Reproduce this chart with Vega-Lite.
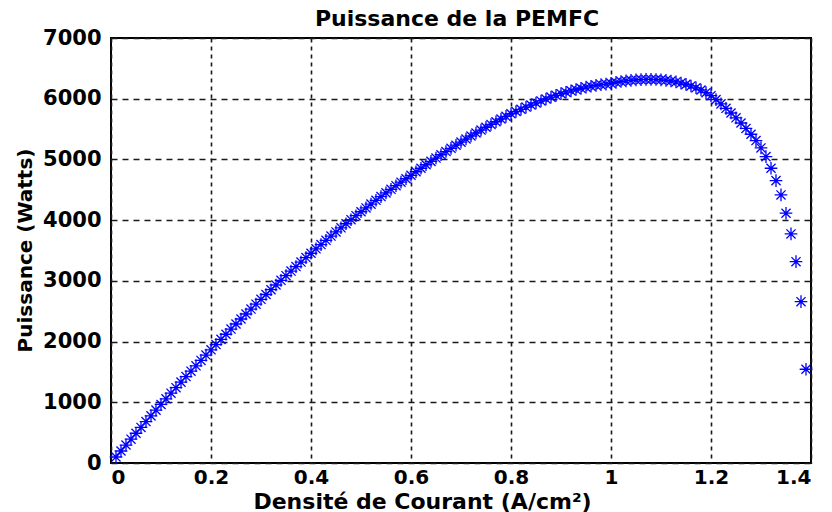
{
  "$schema": "https://vega.github.io/schema/vega-lite/v6.json",
  "width": 700,
  "height": 425,
  "autosize": "none",
  "padding": {"left": 111, "top": 38, "right": 21, "bottom": 49},
  "background": "white",
  "title": {"text": "Puissance de la PEMFC", "font": "DejaVu Sans", "fontSize": 22, "fontWeight": "bold", "color": "black", "offset": -4, "anchor": "middle", "dx": -4},
  "config": {
    "view": {"stroke": "black", "strokeWidth": 2},
    "axis": {
      "domain": false,
      "ticks": false,
      "grid": true,
      "gridColor": "#1a1a1a",
      "gridOpacity": 1,
      "gridWidth": 1.6,
      "labelFont": "DejaVu Sans",
      "labelFontSize": 21,
      "labelFontWeight": "bold",
      "labelColor": "black",
      "titleFont": "DejaVu Sans",
      "titleFontWeight": "bold",
      "titleColor": "black"
    }
  },
  "data": {"values": [
    {"J":0.01,"P":99},{"J":0.02,"P":198},{"J":0.03,"P":296},{"J":0.04,"P":393},{"J":0.05,"P":490},
    {"J":0.06,"P":586},{"J":0.07,"P":682},{"J":0.08,"P":776},{"J":0.09,"P":871},{"J":0.10,"P":964},
    {"J":0.11,"P":1057},{"J":0.12,"P":1150},{"J":0.13,"P":1241},{"J":0.14,"P":1332},{"J":0.15,"P":1423},
    {"J":0.16,"P":1512},{"J":0.17,"P":1601},{"J":0.18,"P":1690},{"J":0.19,"P":1777},{"J":0.20,"P":1864},
    {"J":0.21,"P":1951},{"J":0.22,"P":2036},{"J":0.23,"P":2121},{"J":0.24,"P":2206},{"J":0.25,"P":2289},
    {"J":0.26,"P":2372},{"J":0.27,"P":2454},{"J":0.28,"P":2535},{"J":0.29,"P":2616},{"J":0.30,"P":2696},
    {"J":0.31,"P":2775},{"J":0.32,"P":2854},{"J":0.33,"P":2932},{"J":0.34,"P":3009},{"J":0.35,"P":3085},
    {"J":0.36,"P":3161},{"J":0.37,"P":3235},{"J":0.38,"P":3309},{"J":0.39,"P":3383},{"J":0.40,"P":3455},
    {"J":0.41,"P":3527},{"J":0.42,"P":3598},{"J":0.43,"P":3668},{"J":0.44,"P":3738},{"J":0.45,"P":3806},
    {"J":0.46,"P":3874},{"J":0.47,"P":3941},{"J":0.48,"P":4007},{"J":0.49,"P":4073},{"J":0.50,"P":4138},
    {"J":0.51,"P":4201},{"J":0.52,"P":4264},{"J":0.53,"P":4327},{"J":0.54,"P":4388},{"J":0.55,"P":4449},
    {"J":0.56,"P":4508},{"J":0.57,"P":4567},{"J":0.58,"P":4625},{"J":0.59,"P":4682},{"J":0.60,"P":4739},
    {"J":0.61,"P":4797},{"J":0.62,"P":4855},{"J":0.63,"P":4912},{"J":0.64,"P":4968},{"J":0.65,"P":5023},
    {"J":0.66,"P":5077},{"J":0.67,"P":5130},{"J":0.68,"P":5183},{"J":0.69,"P":5234},{"J":0.70,"P":5285},
    {"J":0.71,"P":5336},{"J":0.72,"P":5386},{"J":0.73,"P":5435},{"J":0.74,"P":5483},{"J":0.75,"P":5530},
    {"J":0.76,"P":5576},{"J":0.77,"P":5621},{"J":0.78,"P":5666},{"J":0.79,"P":5709},{"J":0.80,"P":5752},
    {"J":0.81,"P":5789},{"J":0.82,"P":5826},{"J":0.83,"P":5862},{"J":0.84,"P":5896},{"J":0.85,"P":5930},
    {"J":0.86,"P":5963},{"J":0.87,"P":5995},{"J":0.88,"P":6026},{"J":0.89,"P":6056},{"J":0.90,"P":6083},
    {"J":0.91,"P":6107},{"J":0.92,"P":6130},{"J":0.93,"P":6151},{"J":0.94,"P":6171},{"J":0.95,"P":6190},
    {"J":0.96,"P":6206},{"J":0.97,"P":6220},{"J":0.98,"P":6231},{"J":0.99,"P":6241},{"J":1.00,"P":6255},
    {"J":1.01,"P":6270},{"J":1.02,"P":6283},{"J":1.03,"P":6294},{"J":1.04,"P":6303},{"J":1.05,"P":6310},
    {"J":1.06,"P":6315},{"J":1.07,"P":6318},{"J":1.08,"P":6318},{"J":1.09,"P":6316},{"J":1.10,"P":6311},
    {"J":1.11,"P":6303},{"J":1.12,"P":6292},{"J":1.13,"P":6277},{"J":1.14,"P":6258},{"J":1.15,"P":6236},
    {"J":1.16,"P":6210},{"J":1.17,"P":6180},{"J":1.18,"P":6144},{"J":1.19,"P":6100},{"J":1.20,"P":6050},
    {"J":1.21,"P":5985},{"J":1.22,"P":5915},{"J":1.23,"P":5842},{"J":1.24,"P":5765},{"J":1.25,"P":5685},
    {"J":1.26,"P":5600},{"J":1.27,"P":5510},{"J":1.28,"P":5415},{"J":1.29,"P":5310},{"J":1.30,"P":5190},
    {"J":1.31,"P":5046},{"J":1.32,"P":4855},{"J":1.33,"P":4651},{"J":1.34,"P":4415},{"J":1.35,"P":4114},
    {"J":1.36,"P":3773},{"J":1.37,"P":3316},{"J":1.38,"P":2657},{"J":1.39,"P":1544}
  ]},
  "mark": {
    "type": "point",
    "shape": "M-1,0L1,0M0,-1L0,1M-0.72,-0.72L0.72,0.72M-0.72,0.72L0.72,-0.72",
    "filled": false,
    "color": "#0000FF",
    "strokeWidth": 1.3,
    "size": 160,
    "opacity": 1
  },
  "encoding": {
    "x": {
      "field": "J",
      "type": "quantitative",
      "scale": {"domain": [0, 1.4], "nice": false, "zero": false},
      "axis": {
        "values": [0, 0.2, 0.4, 0.6, 0.8, 1, 1.2, 1.4],
        "format": ".1~f",
        "labelFontSize": 20,
        "labelPadding": 4,
        "gridDash": [4, 4],
        "title": "Densité de Courant (A/cm²)",
        "titleFontSize": 22,
        "titleX": 311,
        "titleY": 45,
        "titleAlign": "center",
        "titleBaseline": "alphabetic"
      }
    },
    "y": {
      "field": "P",
      "type": "quantitative",
      "scale": {"domain": [0, 7000], "nice": false},
      "axis": {
        "values": [0, 1000, 2000, 3000, 4000, 5000, 6000, 7000],
        "format": "d",
        "labelPadding": 10,
        "gridDash": [6, 5],
        "title": "Puissance (Watts)",
        "titleFontSize": 20,
        "titleX": -86,
        "titleY": 212,
        "titleAngle": -90,
        "titleAlign": "center",
        "titleBaseline": "middle"
      }
    }
  }
}
